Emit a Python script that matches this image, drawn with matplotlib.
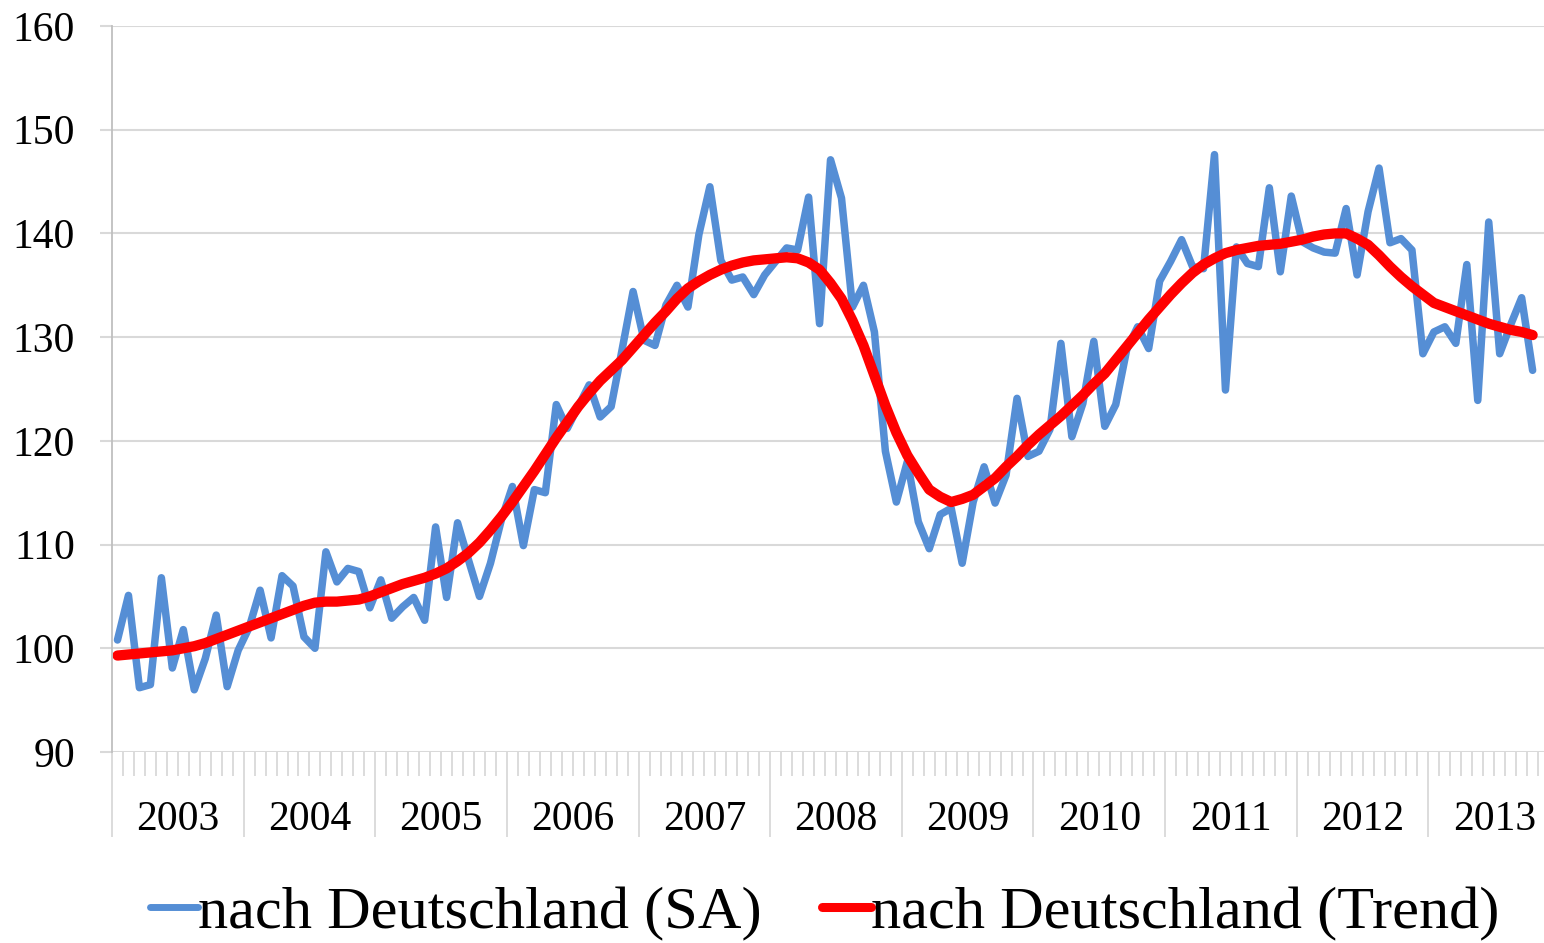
import matplotlib
matplotlib.use("Agg")
import matplotlib.pyplot as plt
from matplotlib.lines import Line2D
import numpy as np

# monthly values, Jan 2003 .. Oct 2013
years = ["2003", "2004", "2005", "2006", "2007", "2008",
         "2009", "2010", "2011", "2012", "2013"]

sa = [100.8, 105.1, 96.2, 96.5, 106.8, 98.1, 101.8, 96.0, 99.0, 103.2, 96.3, 99.8,
      102.0, 105.6, 101.0, 107.0, 106.0, 101.1, 100.0, 109.3, 106.4, 107.7, 107.4, 103.9,
      106.6, 102.9, 104.0, 104.9, 102.7, 111.7, 104.9, 112.1, 108.5, 105.0, 108.2, 112.4,
      115.6, 109.9, 115.3, 115.0, 123.5, 121.2, 123.3, 125.4, 122.3, 123.3, 128.8, 134.4,
      129.7, 129.2, 133.1, 135.0, 132.9, 139.9, 144.5, 137.4, 135.5, 135.8, 134.1, 136.0,
      137.3, 138.6, 138.4, 143.5, 131.3, 147.1, 143.4, 132.9, 135.0, 130.5, 119.0, 114.1,
      118.0, 112.2, 109.6, 112.9, 113.5, 108.2, 114.1, 117.5, 114.0, 116.7, 124.1, 118.5,
      119.0, 121.1, 129.4, 120.4, 123.6, 129.6, 121.4, 123.5, 128.8, 131.0, 128.9, 135.4,
      137.3, 139.4, 136.8, 136.6, 147.6, 124.9, 138.7, 137.1, 136.8, 144.4, 136.3, 143.6,
      139.2, 138.6, 138.2, 138.1, 142.4, 136.0, 142.1, 146.3, 139.1, 139.5, 138.4, 128.4,
      130.5, 131.0, 129.4, 137.0, 123.9, 141.1, 128.4, 131.2, 133.8, 126.8]

trend = [99.3, 99.4, 99.5, 99.6, 99.7, 99.8, 100.0, 100.2, 100.5, 100.9, 101.3, 101.7,
         102.1, 102.5, 102.9, 103.3, 103.7, 104.1, 104.4, 104.5, 104.5, 104.6, 104.7, 105.0,
         105.4, 105.8, 106.2, 106.5, 106.8, 107.2, 107.7, 108.4, 109.2, 110.2, 111.4, 112.7,
         114.1, 115.6, 117.1, 118.7, 120.3, 121.8, 123.3, 124.6, 125.8, 126.8, 127.8, 129.0,
         130.2, 131.4, 132.5, 133.7, 134.7, 135.4, 136.0, 136.5, 136.9, 137.2, 137.4, 137.5,
         137.6, 137.7, 137.6, 137.2, 136.5, 135.2, 133.7, 131.6, 129.2, 126.3, 123.4, 120.8,
         118.6, 116.9, 115.3, 114.6, 114.1, 114.4, 114.8, 115.6, 116.4, 117.5, 118.5, 119.6,
         120.6, 121.5, 122.4, 123.4, 124.4, 125.5, 126.5, 127.8, 129.1, 130.4, 131.7, 132.9,
         134.1, 135.2, 136.2, 137.0, 137.6, 138.1, 138.4, 138.6, 138.8, 138.9, 139.0, 139.2,
         139.4, 139.7, 139.9, 140.0, 140.0, 139.5, 138.9, 137.9, 136.8, 135.8, 134.9, 134.1,
         133.3, 132.9, 132.5, 132.1, 131.7, 131.3, 131.0, 130.7, 130.5, 130.2]

blue = "#558ed5"
red = "#ff0000"
grey = "#d9d9d9"
serif = ["Liberation Serif", "DejaVu Serif"]

plt.rcParams["font.family"] = serif

W, H = 1544, 943
fig = plt.figure(figsize=(W / 100, H / 100), dpi=100)
n_cat = 12 * len(years)
# the category axis runs on past the right edge of the picture (Nov/Dec 2013)
ax = fig.add_axes([112 / W, 1 - 752 / H, (n_cat * 10.97) / W, (752 - 26) / H])

x = np.arange(len(sa)) + 0.5
ax.plot(x, sa, color=blue, lw=5.4, solid_joinstyle="round", solid_capstyle="round")
ax.plot(x, trend, color=red, lw=7.4, solid_joinstyle="round", solid_capstyle="round")

ax.set_xlim(0, n_cat)
ax.set_ylim(90, 160)
ax.set_yticks(np.arange(90, 161, 10))
ax.yaxis.grid(True, color=grey, lw=1.5)
ax.set_axisbelow(True)

for side in ["top", "right", "bottom"]:
    ax.spines[side].set_visible(False)
ax.spines["left"].set_color("#bfbfbf")
ax.spines["left"].set_linewidth(1.3)

ax.tick_params(axis="y", length=8.6, width=1.5, color=grey, pad=18,
               labelsize=30)

# year boundaries (long ticks) and month ticks
ax.set_xticks(np.arange(0, n_cat + 1, 12))
ax.set_xticks(np.arange(0, n_cat + 1), minor=True)
ax.tick_params(axis="x", which="major", length=61, width=1.3, color=grey,
               labelbottom=False)
ax.tick_params(axis="x", which="minor", length=17, width=1.3, color=grey)

for k, yr in enumerate(years):
    ax.text(12 * k + 6, -0.094, yr, transform=ax.get_xaxis_transform(),
            ha="center", va="center", fontsize=30)

handles = [Line2D([], [], color=blue, lw=5.0, solid_capstyle="round"),
           Line2D([], [], color=red, lw=6.5, solid_capstyle="round")]
labels = ["nach Deutschland (SA)", "nach Deutschland (Trend)"]
fig.legend(handles, labels, loc="center", bbox_to_anchor=(0.534, 0.031),
           ncol=2, frameon=False, fontsize=43.5, handlelength=0.8,
           handletextpad=0.0, columnspacing=1.0, borderaxespad=0)

fig.savefig("out.png", dpi=100)
